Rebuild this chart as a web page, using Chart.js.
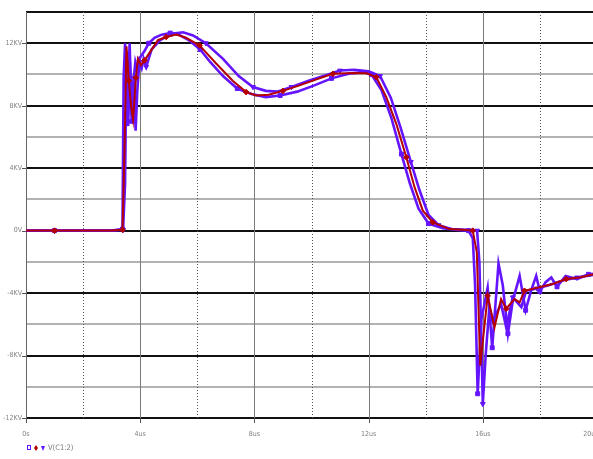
<!DOCTYPE html>
<html>
<head>
<meta charset="utf-8">
<script src="https://cdn.jsdelivr.net/npm/chart.js@4/dist/chart.umd.min.js"></script>
<style>
  html, body { margin: 0; padding: 0; background: #fff; overflow: hidden; }
  canvas { display: block; }
</style>
</head>
<body>
<canvas id="plot" width="597" height="459"></canvas>
<script>
// time in us, voltage in KV, three runs of V(C1:2)
const tRun1 = [0,1,2,3,3.38,3.42,3.47,3.53,3.58,3.64,3.7,3.76,3.83,3.9,4.0,4.15,4.3,4.5,4.75,5.05,5.35,5.7,6.1,6.45,6.9,7.4,7.9,8.4,8.9,9.5,10.1,10.7,11.3,11.8,12.1,12.45,12.8,13.15,13.45,13.75,14.1,14.6,15.1,15.5,15.65,15.73,15.82,15.95,16.17,16.33,16.55,16.7,16.88,17.05,17.29,17.5,17.7,17.87,18.0,18.2,18.4,18.6,18.9,19.3,19.7,20];
const vRun1 = [0,0,0,0,0.1,9.8,12.0,7.5,6.7,10.8,7.0,9.5,10.8,10.3,11.1,11.5,12.0,12.35,12.55,12.65,12.55,12.2,11.6,10.8,9.9,9.1,8.75,8.55,8.65,8.9,9.3,9.75,10.05,10.15,10.0,9.0,7.2,4.9,3.0,1.4,0.45,0.15,0.05,0.0,-0.5,-3.5,-10.45,-5.7,-3.65,-7.5,-2.1,-3.5,-6.6,-4.5,-2.9,-5.1,-3.8,-2.9,-3.9,-3.3,-3.0,-3.6,-2.9,-3.1,-2.8,-2.75];

const tRun2 = [0,1,2,3,3.38,3.45,3.52,3.6,3.68,3.75,3.85,3.92,4.03,4.15,4.33,4.62,4.91,5.26,5.61,6.08,6.66,7.24,7.71,8.06,8.5,9.0,9.58,10.2,10.75,11.45,11.92,12.27,12.62,12.97,13.32,13.61,13.9,14.25,14.83,15.3,15.65,15.79,15.91,16.17,16.41,16.64,16.82,17.11,17.29,17.46,17.98,18.45,18.92,19.39,20];
const vRun2 = [0,0,0,0,0.05,5.1,11.8,9.6,8.0,7.1,9.8,11.0,10.6,10.9,11.4,12.2,12.4,12.55,12.35,11.86,10.7,9.6,8.87,8.65,8.7,8.95,9.3,9.7,10.04,10.1,10.08,9.83,8.55,6.84,4.7,2.78,1.28,0.53,0.1,0.05,0,-1.39,-8.65,-4.17,-6.2,-4.38,-5.0,-4.38,-4.6,-3.85,-3.63,-3.42,-3.1,-3.0,-2.75];

const tRun3 = [0,1,2,3,3.4,3.47,3.52,3.57,3.63,3.7,3.78,3.84,3.9,3.97,4.05,4.12,4.21,4.4,4.7,5.1,5.5,5.85,6.3,6.9,7.45,7.95,8.4,8.8,9.3,9.9,10.5,11.0,11.5,12.0,12.4,12.78,13.12,13.48,13.78,14.1,14.45,14.9,15.4,15.8,15.88,15.95,16.0,16.1,16.23,16.35,16.64,16.82,17.05,17.35,17.52,17.9,18.3,18.8,19.3,19.8,20];
const vRun3 = [0,0,0,0,0.05,3.0,11.5,8.8,12.0,7.5,9.8,6.4,9.0,10.8,10.4,11.0,10.5,11.6,12.2,12.6,12.7,12.5,12.0,11.0,9.9,9.2,8.95,8.9,9.2,9.6,9.95,10.25,10.3,10.2,9.9,8.5,6.6,4.4,2.6,1.0,0.35,0.1,0.05,0.0,-2.0,-7.0,-11.1,-8.0,-4.9,-5.77,-4.7,-6.2,-4.27,-4.9,-3.85,-3.7,-3.5,-3.2,-3.0,-2.85,-2.8];

const xTicks = [0, 4, 8, 12, 16, 20];
const yTicks = [-12, -8, -4, 0, 4, 8, 12];
const traceName = 'V(C1:2)';

const purple = '#6414ff';
const red = '#b40000';
const fontFamily = "'DejaVu Sans Condensed', 'Liberation Sans Narrow', sans-serif";
const labelFont = { family: fontFamily, size: 7 };

const pts = (ts, vs) => ts.map((t, i) => ({ x: t, y: vs[i] }));
const marker = ctx => (ctx.dataIndex % 3 === 1 ? 2.8 : 0);

// PSpice style grid: dark lines every 4KV, grey in between, dotted verticals at odd 2us
const probeGrid = {
  id: 'probeGrid',
  beforeDatasetsDraw(chart) {
    const { ctx, chartArea: a, scales: { x, y } } = chart;
    ctx.save();
    for (let v = -12; v <= 14; v += 2) {
      const py = Math.round(y.getPixelForValue(v));
      const major = v % 4 === 0 || v === 14;
      ctx.strokeStyle = major ? '#111' : '#b2b2b2';
      ctx.lineWidth = 2;
      ctx.beginPath();
      ctx.moveTo(a.left, py);
      ctx.lineTo(a.right, py);
      ctx.stroke();
    }
    for (let t = 0; t <= 20; t += 2) {
      const px = Math.round(x.getPixelForValue(t)) + 0.5;
      ctx.lineWidth = 1;
      if (t % 4 === 0) {
        ctx.strokeStyle = t === 0 ? '#666' : '#7a7a7a';
        ctx.setLineDash([]);
      } else {
        ctx.strokeStyle = '#555';
        ctx.setLineDash([1, 2]);
      }
      ctx.beginPath();
      ctx.moveTo(px, a.top);
      ctx.lineTo(px, a.bottom);
      ctx.stroke();
    }
    ctx.setLineDash([]);
    ctx.strokeStyle = '#555';
    ctx.lineWidth = 1;
    yTicks.forEach(v => {
      const py = Math.round(y.getPixelForValue(v)) + 0.5;
      ctx.beginPath();
      ctx.moveTo(a.left - 4, py);
      ctx.lineTo(a.left, py);
      ctx.stroke();
    });
    xTicks.forEach(t => {
      const px = Math.round(x.getPixelForValue(t)) + 0.5;
      ctx.beginPath();
      ctx.moveTo(px, a.bottom);
      ctx.lineTo(px, a.bottom + 5);
      ctx.stroke();
    });
    ctx.restore();
  },
  afterDraw(chart) {
    // legend line under the x axis
    const { ctx, chartArea: a } = chart;
    const yy = a.bottom + 30;
    ctx.save();
    ctx.lineWidth = 1;
    ctx.strokeStyle = purple;
    ctx.strokeRect(27.5, yy - 2.5, 3, 4);
    ctx.fillStyle = red;
    ctx.beginPath();
    ctx.moveTo(36, yy - 3);
    ctx.lineTo(38, yy);
    ctx.lineTo(36, yy + 3);
    ctx.lineTo(34, yy);
    ctx.closePath();
    ctx.fill();
    ctx.fillStyle = purple;
    ctx.beginPath();
    ctx.moveTo(41, yy - 2);
    ctx.lineTo(45, yy - 2);
    ctx.lineTo(43, yy + 3);
    ctx.closePath();
    ctx.fill();
    ctx.fillStyle = '#777';
    ctx.font = '7.5px ' + fontFamily;
    ctx.textBaseline = 'middle';
    ctx.fillText(traceName, 48, yy + 0.5);
    ctx.restore();
  }
};

new Chart(document.getElementById('plot'), {
  type: 'line',
  data: {
    datasets: [
      {
        data: pts(tRun2, vRun2),
        borderColor: red, backgroundColor: red, borderWidth: 2,
        pointStyle: 'rectRot', pointRadius: marker, pointBorderWidth: 1
      },
      {
        data: pts(tRun1, vRun1),
        borderColor: purple, backgroundColor: purple, borderWidth: 2.6,
        pointStyle: 'rect', pointRadius: marker, pointBorderWidth: 1
      },
      {
        data: pts(tRun3, vRun3),
        borderColor: purple, backgroundColor: purple, borderWidth: 2.6,
        pointStyle: 'triangle', rotation: 180, pointRadius: marker, pointBorderWidth: 1
      }
    ]
  },
  options: {
    responsive: false,
    animation: false,
    layout: { padding: { top: 12, right: 0, bottom: 0, left: 0 } },
    plugins: { legend: { display: false }, tooltip: { enabled: false } },
    elements: { line: { tension: 0 } },
    scales: {
      x: {
        type: 'linear', min: 0, max: 20,
        grid: { display: false, drawTicks: false }, border: { display: false },
        afterBuildTicks: s => { s.ticks = xTicks.map(v => ({ value: v })); },
        afterFit: s => { s.height = 41; s.paddingLeft = 0; s.paddingRight = 0; },
        ticks: {
          padding: 12, color: '#808080', font: labelFont, maxRotation: 0,
          // last label sits against the window edge, pushed left like the probe window does
          callback: v => (v === 0 ? '0s' : v === 20 ? '20us' + ' '.repeat(6) : v + 'us')
        }
      },
      y: {
        type: 'linear', min: -12, max: 14,
        grid: { display: false, drawTicks: false }, border: { display: false },
        afterBuildTicks: s => { s.ticks = yTicks.map(v => ({ value: v })); },
        afterFit: s => { s.width = 26; s.paddingTop = 0; s.paddingBottom = 0; },
        ticks: {
          padding: 4, color: '#808080', font: labelFont,
          callback: v => (v === 0 ? '0V' : v + 'KV')
        }
      }
    }
  },
  plugins: [probeGrid]
});
</script>
</body>
</html>
